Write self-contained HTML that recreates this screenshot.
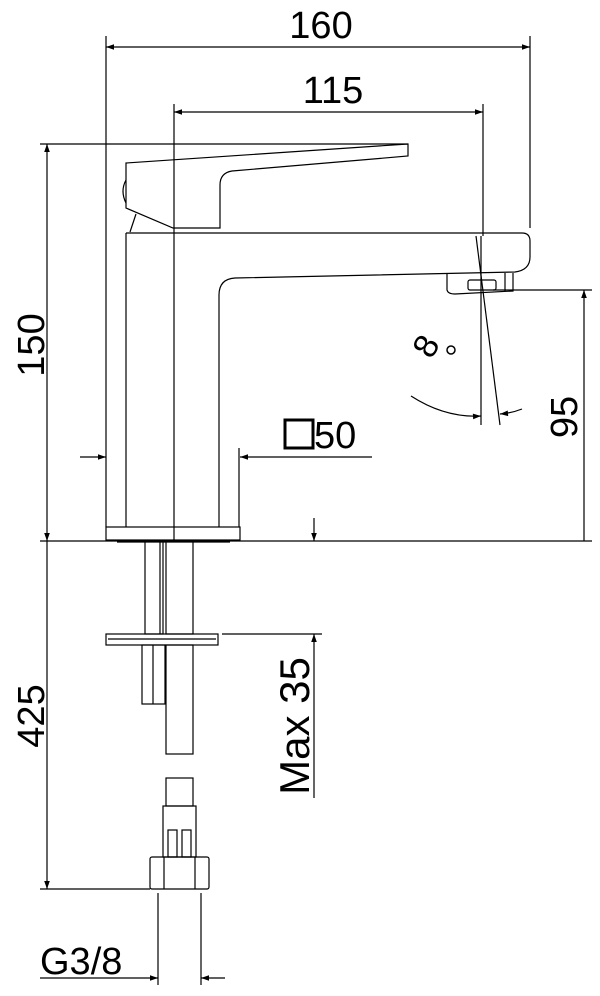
<!DOCTYPE html>
<html><head><meta charset="utf-8"><style>
html,body{margin:0;padding:0;background:#fff;}
svg{display:block;}
text{font-family:"Liberation Sans",Arial,sans-serif;fill:#000;}
</style></head><body>
<svg width="600" height="996" viewBox="0 0 600 996" xmlns="http://www.w3.org/2000/svg">
<defs>
<marker id="a" viewBox="0 0 10 10" refX="10" refY="5" markerWidth="16" markerHeight="8" markerUnits="userSpaceOnUse" orient="auto-start-reverse">
<path d="M0,1.5 L10,5 L0,8.5 Z" fill="#000"/>
</marker>
</defs>
<g stroke="#000" stroke-width="1.2" fill="none">
<line x1="106" y1="36" x2="106" y2="527"/>
<line x1="530" y1="36" x2="530" y2="228"/>
<line x1="174" y1="104" x2="174" y2="540"/>
<line x1="483" y1="104" x2="483" y2="236"/>
<line x1="40" y1="144" x2="408" y2="144"/>
<line x1="40" y1="541" x2="592" y2="541"/>
<line x1="493" y1="290" x2="592" y2="290"/>
<line x1="106" y1="47" x2="530" y2="47" marker-start="url(#a)" marker-end="url(#a)"/>
<line x1="174" y1="112" x2="483" y2="112" marker-start="url(#a)" marker-end="url(#a)"/>
<line x1="47" y1="144" x2="47" y2="541" marker-start="url(#a)" marker-end="url(#a)"/>
<line x1="584" y1="290" x2="584" y2="541" marker-start="url(#a)"/>
<line x1="47" y1="541" x2="47" y2="889" marker-end="url(#a)"/>
<line x1="40" y1="889" x2="150" y2="889"/>
<line x1="80" y1="457" x2="106" y2="457" marker-end="url(#a)"/>
<line x1="372" y1="457" x2="240" y2="457" marker-end="url(#a)"/>
<line x1="239" y1="448" x2="239" y2="527"/>
<line x1="314" y1="518" x2="314" y2="541" marker-end="url(#a)"/>
<line x1="314" y1="798" x2="314" y2="634" marker-end="url(#a)"/>
<line x1="222" y1="634" x2="322" y2="634"/>
<line x1="158" y1="893" x2="158" y2="985"/>
<line x1="201" y1="893" x2="201" y2="985"/>
<line x1="40" y1="978" x2="158" y2="978" marker-end="url(#a)"/>
<line x1="225" y1="978" x2="201" y2="978" marker-end="url(#a)"/>
<path d="M126,163 L408,144 L408,156 L232,171 Q220,173 220,185 L220,228 L173,228 L126,208 Z"/>
<path d="M126,180 Q120,191 126,203"/>
<path d="M136,214 L130,232"/>
<path d="M126,233 L522,233 Q530,233 530,241 L530,257 Q530,270 515,272 L235,278 Q219,279 219,295 L219,527"/>
<line x1="126" y1="233" x2="126" y2="527"/>
<rect x="106" y="527" width="134" height="13"/>
<line x1="117" y1="542" x2="230" y2="542"/>
<path d="M447,273 L447,290 Q448,294 455,294 L513,291 L513,273"/>
<rect x="468" y="280" width="28" height="10" rx="2"/>
<line x1="505" y1="273" x2="505" y2="291"/>
<line x1="481" y1="236" x2="481" y2="425"/>
<line x1="476" y1="236" x2="500" y2="425"/>
<path d="M411,396 Q445,418 481,416" marker-end="url(#a)"/>
<path d="M522,409 Q512,413 500,414" marker-end="url(#a)"/>
<rect x="145" y="541" width="18" height="93"/>
<line x1="160" y1="541" x2="160" y2="634"/>
<rect x="166" y="541" width="27" height="93"/>
<rect x="106" y="634" width="112" height="11"/>
<line x1="108" y1="639" x2="216" y2="639"/>
<rect x="142" y="645" width="23" height="59"/>
<line x1="153" y1="645" x2="153" y2="704"/>
<rect x="166" y="645" width="27" height="109"/>
<rect x="166" y="778" width="27" height="28"/>
<rect x="163" y="806" width="33" height="51"/>
<rect x="168" y="830" width="9" height="27"/>
<rect x="182" y="830" width="9" height="27"/>
<rect x="150" y="857" width="59" height="32" rx="2"/>
<line x1="164" y1="857" x2="164" y2="889"/>
<line x1="195" y1="857" x2="195" y2="889"/>
</g>
<rect x="285" y="420" width="28" height="28" fill="none" stroke="#000" stroke-width="3"/>
<text x="314" y="448" font-size="38">50</text>
<text x="321" y="38" font-size="38" text-anchor="middle">160</text>
<text x="333" y="103" font-size="38" text-anchor="middle">115</text>
<text x="40" y="974" font-size="38">G3/8</text>
<text transform="translate(44,345) rotate(-90)" font-size="38" text-anchor="middle">150</text>
<text transform="translate(44,716) rotate(-90)" font-size="38" text-anchor="middle">425</text>
<text transform="translate(577,417) rotate(-90)" font-size="38" text-anchor="middle">95</text>
<text transform="translate(309,726) rotate(-90)" font-size="42" text-anchor="middle">Max 35</text>
<text transform="translate(436,352) rotate(-60)" font-size="34" text-anchor="middle">8</text>
<circle cx="451" cy="350" r="4" fill="none" stroke="#000" stroke-width="1.5"/>
</svg>
</body></html>
